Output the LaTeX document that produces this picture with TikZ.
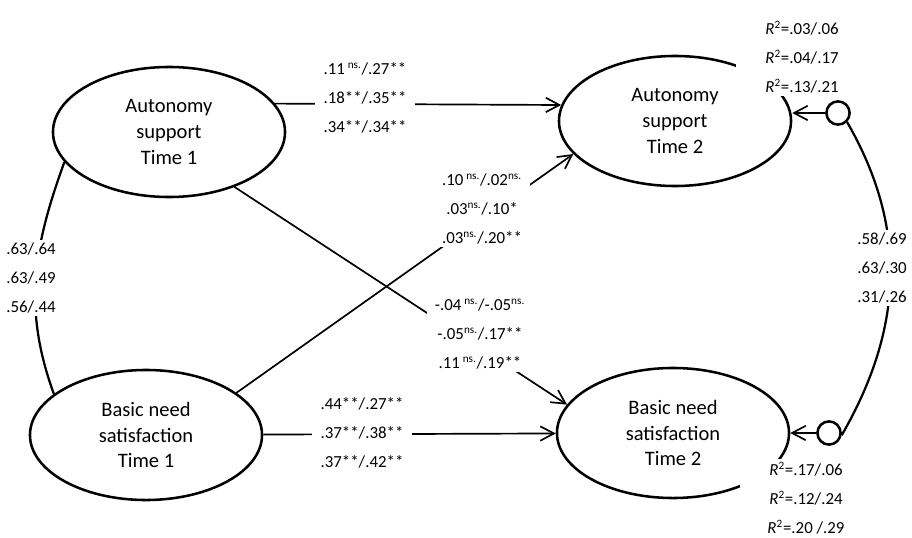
\documentclass[tikz,border=0pt]{standalone}
\usepackage{fontspec}
\setmainfont{Carlito}
\usetikzlibrary{shapes.geometric, arrows.meta}
\tikzset{
  latent/.style={ellipse, draw, line width=1.8pt, minimum width=5.8cm,
                 minimum height=3.25cm, align=center,
                 font=\fontsize{14.6}{18.4}\selectfont},
  coef/.style={fill=white, align=center, inner xsep=6pt, inner ysep=2pt,
               font=\fontsize{12}{20.6}\selectfont},
  rsq/.style={coef, minimum width=3.3cm},
  effect/.style={-{Straight Barb[length=3.4mm,width=3.6mm]}, line width=1.2pt},
  covar/.style={line width=1.6pt},
  resid/.style={circle, draw, line width=1.8pt, minimum size=0.58cm, inner sep=0pt}
}
\newcommand{\ns}{\textsuperscript{ns.}}
\newcommand{\rsq}{\textit{R}\textsuperscript{2}}

\begin{document}
\begin{tikzpicture}[x=0.025cm, y=-0.025cm]
    \useasboundingbox (0,0) rectangle (912,538);

    % Latent variables
    \node[latent] (as1) at (169,132) {Autonomy\\support\\Time 1};
    \node[latent] (bn1) at (146,435) {Basic need\\satisfaction\\Time 1};
    \node[latent] (as2) at (675,121) {Autonomy\\support\\Time 2};
    \node[latent] (bn2) at (673,433) {Basic need\\satisfaction\\Time 2};

    % Residual circles
    \node[resid] (e1) at (838,113) {};
    \node[resid] (e2) at (829,433) {};

    % Paths
    \draw[effect] (as1.15) -- (as2.172);
    \draw[effect] (bn1) -- (bn2);
    \draw[effect] (as1.320) -- (bn2.165);
    \draw[effect] (bn1.25) -- (as2.198);
    \draw[effect] (e1) -- (e1 -| as2.east);
    \draw[effect] (e2) -- (bn2.east);

    % Covariances
    \draw[covar] (as1.196) to[out=250, in=110] (bn1.156);
    \draw[covar] (e1.315) to[out=300, in=60] (e2.350);

    % Coefficients
    \node[coef] (c-as) at (365,98) {.11\,\ns/.27**\\.18**/.35**\\.34**/.34**};
    \node[coef] (c-bn) at (362,433) {.44**/.27**\\.37**/.38**\\.37**/.42**};
    \node[coef] (c-bnas) at (482,209) {.10\,\ns/.02\ns\\.03\ns/.10*\\.03\ns/.20**};
    \node[coef] (c-asbn) at (480,334) {-.04\,\ns/-.05\ns\\-.05\ns/.17**\\.11\,\ns/.19**};
    \node[coef] (c-t1) at (31,278) {.63/.64\\.63/.49\\.56/.44};
    \node[coef] (c-t2) at (882,268) {.58/.69\\.63/.30\\.31/.26};

    % Explained variance
    \node[rsq] (r-as) at (802,57) {\rsq=.03/.06\\\rsq=.04/.17\\\rsq=.13/.21};
    \node[rsq] (r-bn) at (806,498) {\rsq=.17/.06\\\rsq=.12/.24\\\rsq=.20 /.29};
\end{tikzpicture}
\end{document}
